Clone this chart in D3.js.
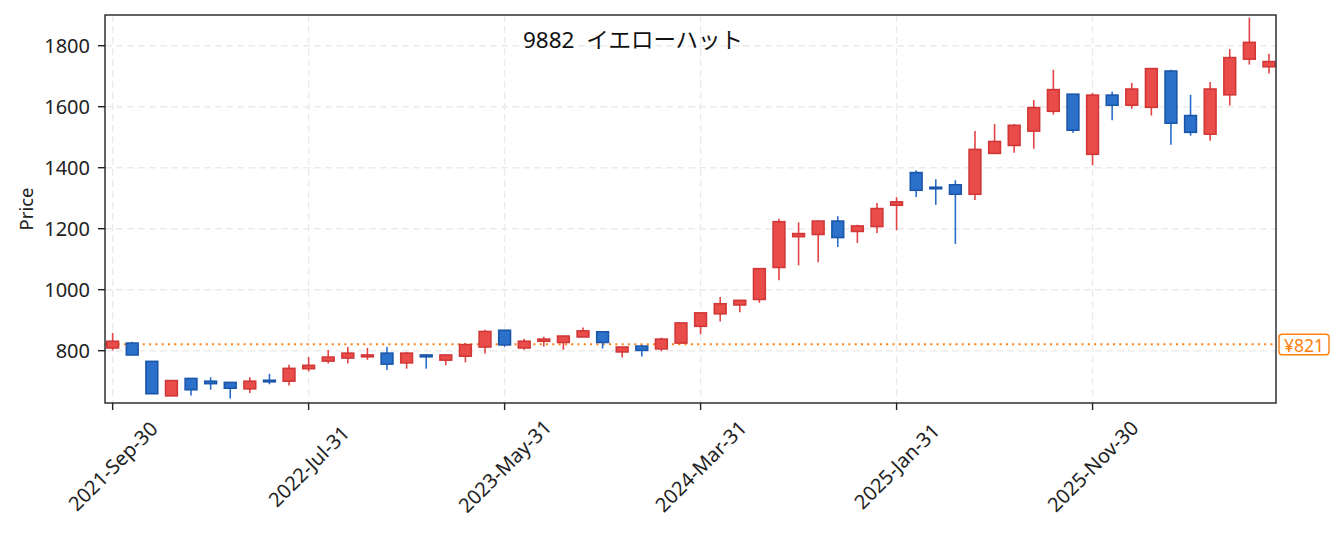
<!DOCTYPE html>
<html><head><meta charset="utf-8">
<script src="https://cdn.jsdelivr.net/npm/d3@7"></script>
<style>
html,body{margin:0;padding:0;background:#fff;}
svg{display:block;font-family:"Noto Sans","Noto Sans CJK JP",sans-serif;}
</style></head>
<body>
<svg id="chart" width="1341" height="533"></svg>
<script>
const titleCode = "9882";
const titleName = "イエローハット";
const dates = [
"2021-09-30","2021-10-31","2021-11-30","2021-12-31","2022-01-31","2022-02-28","2022-03-31","2022-04-30","2022-05-31","2022-06-30",
"2022-07-31","2022-08-31","2022-09-30","2022-10-31","2022-11-30","2022-12-31","2023-01-31","2023-02-28","2023-03-31","2023-04-30",
"2023-05-31","2023-06-30","2023-07-31","2023-08-31","2023-09-30","2023-10-31","2023-11-30","2023-12-31","2024-01-31","2024-02-29",
"2024-03-31","2024-04-30","2024-05-31","2024-06-30","2024-07-31","2024-08-31","2024-09-30","2024-10-31","2024-11-30","2024-12-31",
"2025-01-31","2025-02-28","2025-03-31","2025-04-30","2025-05-31","2025-06-30","2025-07-31","2025-08-31","2025-09-30","2025-10-31",
"2025-11-30","2025-12-31","2026-01-31","2026-02-28","2026-03-31","2026-04-30","2026-05-31","2026-06-30","2026-07-31","2026-08-31"];
const openV  = [809,825,765,652,709,700,696,675,703,700, 741,766,776,780,792,760,786,769,782,812, 867,809,831,827,845,862,796,815,806,825, 880,921,950,968,1073,1174,1181,1225,1191,1207, 1277,1384,1336,1344,1313,1447,1473,1520,1585,1641, 1444,1638,1605,1598,1717,1571,1510,1639,1756,1731];
const highV  = [858,829,765,702,709,713,697,713,724,754, 779,802,812,809,812,796,787,787,825,869, 867,839,846,849,876,862,812,819,843,891, 924,976,966,1069,1233,1221,1226,1241,1213,1284, 1303,1392,1362,1359,1520,1543,1543,1622,1721,1641, 1645,1649,1678,1726,1721,1639,1681,1789,1892,1774];
const lowV   = [801,786,659,652,653,672,643,661,690,686, 732,758,758,770,737,741,741,752,762,791, 813,803,814,803,845,807,778,781,798,825, 854,896,926,957,1031,1080,1090,1140,1153,1186, 1195,1304,1278,1150,1294,1447,1449,1462,1574,1515, 1408,1556,1593,1571,1475,1505,1488,1604,1738,1709];
const closeV = [831,786,659,702,672,692,677,700,698,742, 752,779,792,786,756,792,780,786,820,863, 819,831,838,848,865,827,812,801,838,891, 924,954,965,1069,1223,1184,1225,1171,1209,1266, 1288,1326,1331,1313,1460,1486,1539,1597,1656,1523, 1638,1605,1658,1725,1546,1516,1658,1761,1811,1748];
const yTicks = [800,1000,1200,1400,1600,1800];
const xTickIdx = [0,10,20,30,40,50];
const refPrice = 821;
const refLabel = "¥821";

const months = ["Jan","Feb","Mar","Apr","May","Jun","Jul","Aug","Sep","Oct","Nov","Dec"];
function fmtDate(s){const p=s.split("-");return p[0]+"-"+months[+p[1]-1]+"-"+p[2];}

const svg = d3.select("#chart");
const L=105,R=1276,T=15,B=403;
const x = d3.scaleLinear().domain([-0.39,59.36]).range([L,R]);
const y = d3.scaleLinear().domain([628.5,1900.7]).range([B,T]);
const step = x(1)-x(0);
const bw = step*0.6;

svg.append("rect").attr("width",1341).attr("height",533).attr("fill","#fff");

// grid
const g = svg.append("g");
g.selectAll(".hg").data(yTicks).join("line")
 .attr("x1",L).attr("x2",R).attr("y1",d=>y(d)).attr("y2",d=>y(d))
 .attr("stroke","#ebebeb").attr("stroke-width",1.4).attr("stroke-dasharray","7,4");
g.selectAll(".vg").data(xTickIdx).join("line")
 .attr("x1",d=>x(d)).attr("x2",d=>x(d)).attr("y1",T).attr("y2",B)
 .attr("stroke","#ebebeb").attr("stroke-width",1.4).attr("stroke-dasharray","7,4");

const data = dates.map((d,i)=>({i,d,o:openV[i],h:highV[i],l:lowV[i],c:closeV[i]}));
const up = d=>d.c>=d.o;

// reference line
svg.append("line").attr("x1",L).attr("x2",R).attr("y1",y(refPrice)).attr("y2",y(refPrice))
 .attr("stroke","#ff7f0e").attr("stroke-width",2).attr("stroke-dasharray","2,4.3");

// wicks
svg.append("g").selectAll("line").data(data).join("line")
 .attr("x1",d=>x(d.i)).attr("x2",d=>x(d.i))
 .attr("y1",d=>y(d.h)).attr("y2",d=>y(d.l))
 .attr("stroke",d=>up(d)?"#e24444":"#2a6ccc").attr("stroke-width",1.6);
// bodies
svg.append("g").selectAll("rect").data(data).join("rect")
 .attr("x",d=>x(d.i)-bw/2).attr("width",bw)
 .attr("y",d=>y(Math.max(d.o,d.c)))
 .attr("height",d=>Math.max(1.5,Math.abs(y(d.o)-y(d.c))))
 .attr("fill",d=>up(d)?"#e84d4a":"#2b70c9")
 .attr("stroke",d=>up(d)?"#d23737":"#1b56aa").attr("stroke-width",1.6);

// axes frame
svg.append("rect").attr("x",L).attr("y",T).attr("width",R-L).attr("height",B-T)
 .attr("fill","none").attr("stroke","#222").attr("stroke-width",1.4);

// y ticks
const yt = svg.append("g");
yt.selectAll("line").data(yTicks).join("line")
 .attr("x1",L-7).attr("x2",L).attr("y1",d=>y(d)).attr("y2",d=>y(d))
 .attr("stroke","#222").attr("stroke-width",1.4);
yt.selectAll("text").data(yTicks).join("text")
 .attr("x",L-15).attr("y",d=>y(d)).attr("text-anchor","end").attr("dominant-baseline","central")
 .attr("font-size",20).attr("fill","#222").text(d=>d);

// x ticks
const xt = svg.append("g");
xt.selectAll("line").data(xTickIdx).join("line")
 .attr("x1",d=>x(d)).attr("x2",d=>x(d)).attr("y1",B).attr("y2",B+7)
 .attr("stroke","#222").attr("stroke-width",1.4);
xt.selectAll("text").data(xTickIdx).join("text")
 .attr("text-anchor","middle").attr("dominant-baseline","central")
 .attr("transform",d=>`translate(${x(d)},466) rotate(-45)`)
 .attr("font-size",20).attr("fill","#222").text(d=>fmtDate(dates[d]));

// y label
svg.append("text").attr("transform","translate(25,209) rotate(-90)")
 .attr("text-anchor","middle").attr("dominant-baseline","central")
 .attr("font-size",18.5).attr("fill","#222").text("Price");

// title
const tt = svg.append("text").attr("x",633).attr("y",48).attr("text-anchor","middle")
 .attr("font-size",22.5).attr("fill","#111");
tt.append("tspan").text(titleCode + " ");
tt.append("tspan").attr("dx",6).text(titleName);

// ref label
const ry = y(refPrice);
svg.append("rect").attr("x",1279).attr("y",ry-10).attr("width",50).attr("height",20.5)
 .attr("rx",3).attr("fill","#fff").attr("stroke","#ff7f0e").attr("stroke-width",1.4);
svg.append("text").attr("x",1304).attr("y",ry+0.5).attr("text-anchor","middle").attr("dominant-baseline","central")
 .attr("font-size",17.5).attr("fill","#ff7f0e").text(refLabel);
</script>
</body></html>
